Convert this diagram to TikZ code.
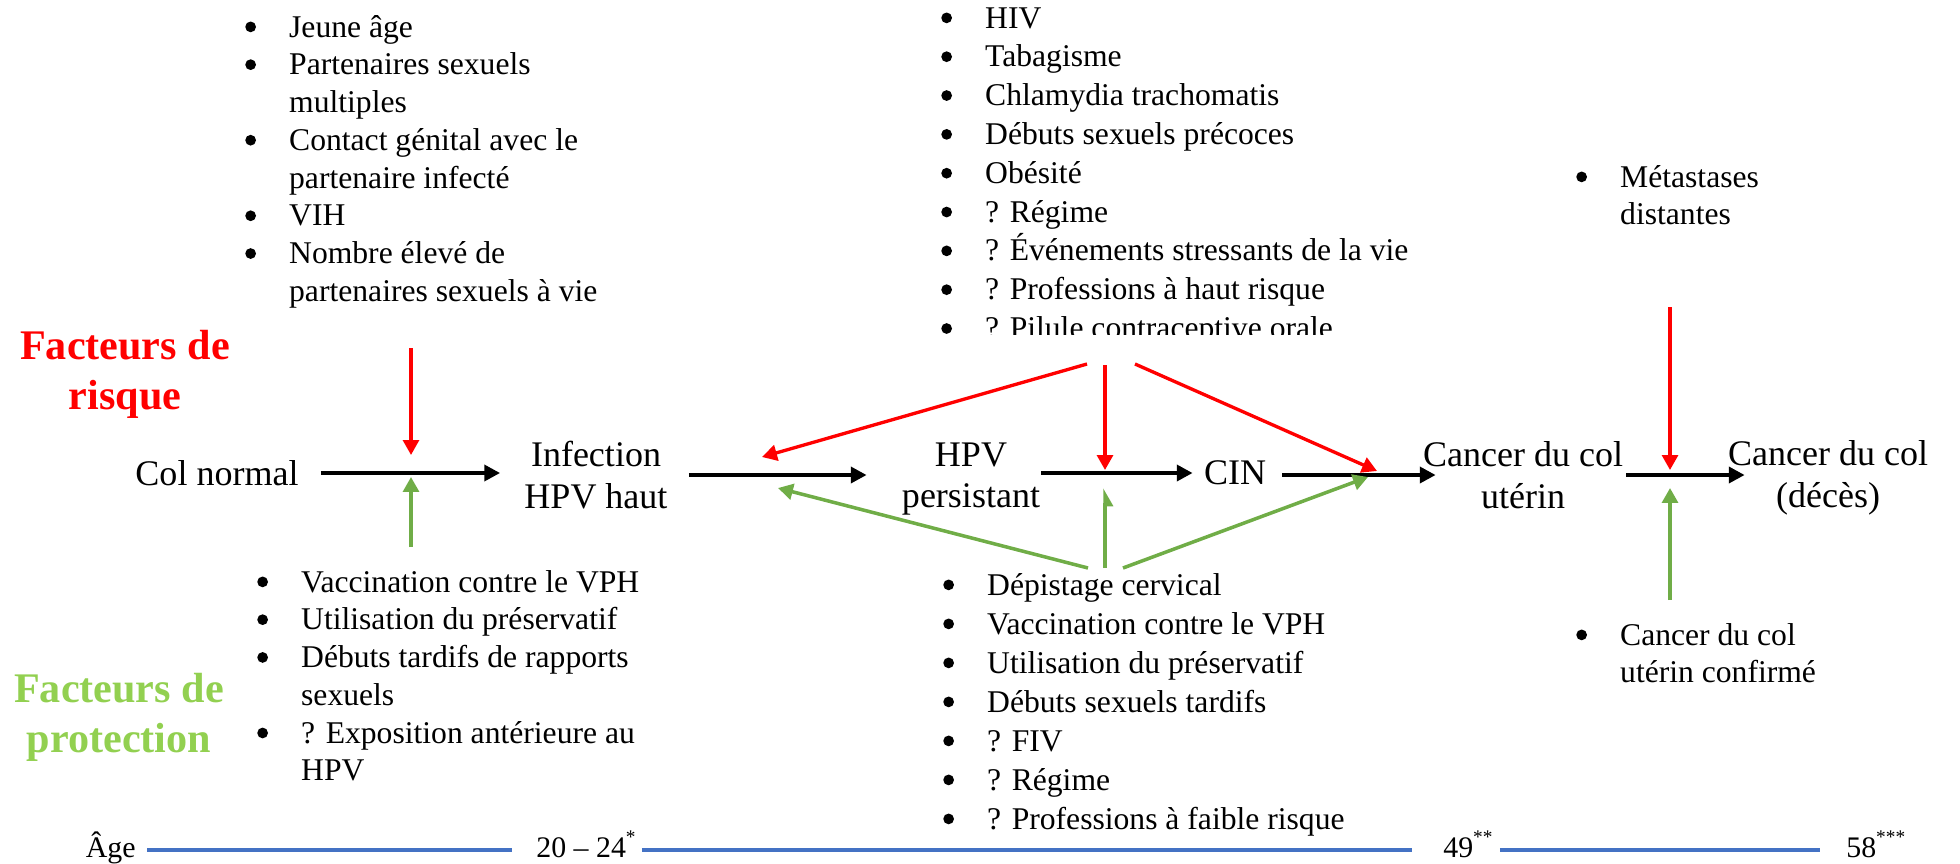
\documentclass[tikz,border=0pt]{standalone}
\usepackage{fontspec}
\setmainfont{Liberation Serif}
\usetikzlibrary{arrows.meta,calc}
\definecolor{rk}{HTML}{FF0000}
\definecolor{gk}{HTML}{70AD47}
\definecolor{gt}{HTML}{92D050}
\definecolor{ax}{HTML}{4472C4}
\newcommand{\Blist}[1]{\begin{tabular}[t]{@{}p{25pt}@{}l@{}}#1\end{tabular}}
\newcommand{\bu}{\tikz[baseline=0pt]\fill (0.17em,0.32em) circle (0.17em);}
\newcommand{\starsup}[1]{\raisebox{0.45em}{\fontsize{11}{11}\selectfont #1}}
\begin{document}
\begin{tikzpicture}[x=0.02cm,y=-0.02cm,
  stage/.style={inner sep=0pt, align=center, font=\fontsize{20.5}{23.8}\selectfont},
  titlebox/.style={inner sep=0pt, align=center, font=\bfseries\fontsize{24}{28.3}\selectfont},
  blist/.style={inner sep=0pt, anchor=base west, font=\fontsize{18}{21.5}\selectfont},
  axlab/.style={inner sep=0pt, font=\fontsize{17}{20}\selectfont},
  flow/.style={line width=2.3pt, -{Triangle[length=9pt,width=9pt]}},
  riskarrow/.style={rk, line width=1.9pt, -{Triangle[length=8.5pt,width=9pt]}},
  protarrow/.style={gk, line width=2pt, -{Triangle[length=8.5pt,width=9pt]}},
  halfprot/.style={gk, line width=2pt, -{Stealth[right,inset=0pt,length=8.5pt,width=9pt]}},
  axisline/.style={ax, line width=2.3pt}
]
\useasboundingbox (0,0) rectangle (1960,863);

% titles
\node[titlebox, rk] (risk) at (125,374) {Facteurs de\\risque};
\node[titlebox, gt] (prot) at (119,717) {Facteurs de\\protection};

% stages
\node[stage] (col) at (217,473) {Col normal};
\node[stage] (inf) at (596,475) {Infection\\HPV haut};
\node[stage] (hpv) at (971,479) {HPV\\persistant};
\node[stage] (cin) at (1235,473) {CIN};
\node[stage] (can1) at (1523,475) {Cancer du col\\utérin};
\node[stage] (can2) at (1828,478) {Cancer du col\\(décès)};

% main flow
\draw[flow] ($(col.east)+(22,0)$) -- ($(col.east -| inf.west)+(-24,0)$);
\draw[flow] ($(inf.east)+(21,0)$) -- ($(inf.east -| hpv.west)+(-35,0)$);
\draw[flow] ($(cin.west -| hpv.east)+(1,0)$) -- ($(cin.west)+(-11,0)$);
\draw[flow] ($(can1.west -| cin.east)+(16,0)$) -- ($(can1.west)+(13,0)$);
\draw[flow] ($(can1.east)+(3,0)$) -- ($(can1.east -| can2.west)+(17,0)$);

% lists
\node[blist, font=\fontsize{18}{21.5}\selectfont] (tl) at (244.9,37) {\Blist{
\bu & Jeune âge\\
\bu & Partenaires sexuels\\
    & multiples\\
\bu & Contact génital avec le\\
    & partenaire infecté\\
\bu & VIH\\
\bu & Nombre élevé de\\
    & partenaires sexuels à vie}};

\begin{scope}
\clip (900,0) rectangle (1470,334);
\node[blist, font=\fontsize{18}{22.1}\selectfont] (tm) at (940.9,28) {\Blist{
\bu & HIV\\
\bu & Tabagisme\\
\bu & Chlamydia trachomatis\\
\bu & Débuts sexuels précoces\\
\bu & Obésité\\
\bu & ? Régime\\
\bu & ? Événements stressants de la vie\\
\bu & ? Professions à haut risque\\
\bu & ? Pilule contraceptive orale}};
\end{scope}

\node[blist, font=\fontsize{18}{21.5}\selectfont] (tr) at (1575.9,187) {\Blist{
\bu & Métastases\\
    & distantes}};

\node[blist, font=\fontsize{18}{21.5}\selectfont] (bl) at (256.9,592) {\Blist{
\bu & Vaccination contre le VPH\\
\bu & Utilisation du préservatif\\
\bu & Débuts tardifs de rapports\\
    & sexuels\\
\bu & ? Exposition antérieure au\\
    & HPV}};

\node[blist, font=\fontsize{18}{22.2}\selectfont] (bm) at (942.9,595) {\Blist{
\bu & Dépistage cervical\\
\bu & Vaccination contre le VPH\\
\bu & Utilisation du préservatif\\
\bu & Débuts sexuels tardifs\\
\bu & ? FIV\\
\bu & ? Régime\\
\bu & ? Professions à faible risque}};

\node[blist, font=\fontsize{18}{21.5}\selectfont] (br) at (1575.9,645) {\Blist{
\bu & Cancer du col\\
    & utérin confirmé}};

% influence arrows
\coordinate (r1s) at (411,348); \coordinate (r1e) at (411,455);
\coordinate (g1s) at (411,547); \coordinate (g1e) at (411,477);
\coordinate (rls) at (1087,364); \coordinate (rle) at (762,457);
\coordinate (rms) at (1105,365); \coordinate (rme) at (1105,470);
\coordinate (rrs) at (1135,364); \coordinate (rre) at (1377,471);
\coordinate (gls) at (1088,568); \coordinate (gle) at (778,488);
\coordinate (gms) at (1105,568); \coordinate (gme) at (1105,488);
\coordinate (grs) at (1123,568); \coordinate (gre) at (1368,477);
\coordinate (r3s) at (1670,307); \coordinate (r3e) at (1670,470);
\coordinate (g3s) at (1670,600); \coordinate (g3e) at (1670,488);

\draw[riskarrow] (r1s) -- (r1e);
\draw[protarrow] (g1s) -- (g1e);
\draw[riskarrow] (rls) -- (rle);
\draw[riskarrow] (rms) -- (rme);
\draw[riskarrow] (rrs) -- (rre);
\draw[protarrow] (gls) -- (gle);
\draw[halfprot] (gms) -- (gme);
\draw[protarrow] (grs) -- (gre);
\draw[riskarrow] (r3s) -- (r3e);
\draw[protarrow] (g3s) -- (g3e);

% age axis
\node[axlab, anchor=base east] (age) at (136,857) {Âge};
\node[axlab, anchor=base west] (t1) at (536,857) {20 – 24\starsup{*}};
\node[axlab, anchor=base west] (t2) at (1443,857) {49\starsup{**}};
\node[axlab, anchor=base west] (t3) at (1846,857) {58\starsup{***}};
\draw[axisline] ($(age.base east)+(11,-7)$) -- ($(t1.base west)+(-24,-7)$);
\draw[axisline] ($(t1.base east)+(6,-7)$) -- ($(t2.base west)+(-31,-7)$);
\draw[axisline] ($(t2.base east)+(7,-7)$) -- ($(t3.base west)+(-26,-7)$);
\end{tikzpicture}
\end{document}
